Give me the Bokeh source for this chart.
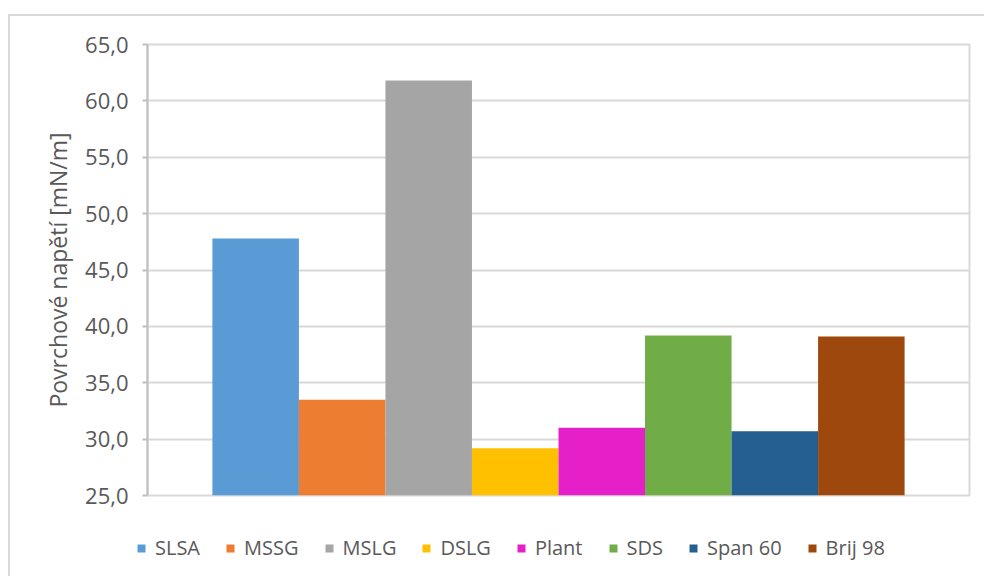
from bokeh.plotting import figure
from bokeh.models import (ColumnDataSource, FactorRange, Legend, LegendItem,
                          CustomJSTickFormatter, FixedTicker)
from bokeh.embed import file_html
from bokeh.resources import INLINE

# Surface tension of the tested surfactants
surfactants = ["SLSA", "MSSG", "MSLG", "DSLG", "Plant", "SDS", "Span 60", "Brij 98"]
tension = [47.8, 33.5, 61.8, 29.2, 31.0, 39.2, 30.7, 39.1]
colors = ["#5B9BD5", "#ED7D31", "#A5A5A5", "#FFC000", "#E620C8", "#70AD47", "#255E91", "#9E480E"]
y_ticks = [25, 30, 35, 40, 45, 50, 55, 60, 65]

FONT = "Open Sans"
TEXT = "#595959"
GRID = "#d9d9d9"
BORDER = "2px solid #d9d9d9"

src = ColumnDataSource(dict(name=surfactants, value=tension, color=colors))

# main bar chart
p = figure(width=976, height=500, output_backend="svg", toolbar_location=None,
           x_range=FactorRange(factors=surfactants, range_padding=0.75,
                               range_padding_units="absolute"),
           y_range=(25, 65),
           min_border_left=137, min_border_top=28, min_border_right=17,
           min_border_bottom=21)
p.styles = {"margin-left": "8px", "margin-top": "14px",
            "border-left": BORDER, "border-top": BORDER}

p.vbar(x="name", top="value", bottom=25, width=1.0, color="color",
       line_color=None, source=src)

p.xaxis.visible = False
p.xgrid.visible = False
p.ygrid.grid_line_color = GRID
p.ygrid.grid_line_width = 2
p.outline_line_color = GRID
p.outline_line_width = 2

ax = p.yaxis[0]
ax.ticker = FixedTicker(ticks=y_ticks)
ax.formatter = CustomJSTickFormatter(code="return tick.toFixed(1).replace('.', ',');")
ax.axis_line_color = "#bfbfbf"
ax.axis_line_width = 2
ax.major_tick_line_color = "#bfbfbf"
ax.major_tick_line_width = 2
ax.major_tick_out = 5
ax.major_tick_in = 0
ax.minor_tick_line_color = None
ax.major_label_standoff = 14
ax.major_label_text_font = FONT
ax.major_label_text_font_size = "22px"
ax.major_label_text_color = TEXT
ax.axis_label = "Povrchové napětí [mN/m]"
ax.axis_label_text_font = FONT
ax.axis_label_text_font_size = "23px"
ax.axis_label_text_font_style = "normal"
ax.axis_label_text_color = TEXT
ax.axis_label_standoff = 8

# legend strip below the chart; its bars sit outside the visible y range,
# they only provide the legend keys
lg = figure(width=976, height=62, output_backend="svg", toolbar_location=None,
            x_range=FactorRange(factors=surfactants), y_range=(100, 101),
            min_border_left=0, min_border_right=0, min_border_top=0,
            min_border_bottom=0)
lg.styles = {"margin-left": "8px", "border-left": BORDER}
lg.axis.visible = False
lg.grid.visible = False
lg.outline_line_color = None
key = lg.vbar(x="name", top="value", bottom=25, width=1.0, color="color",
              line_color=None, source=src)

items = [LegendItem(label=n, renderers=[key], index=i) for i, n in enumerate(surfactants)]
legend = Legend(items=items, orientation="horizontal", location=(126, 15),
                glyph_width=10, glyph_height=10, label_standoff=9, spacing=25,
                padding=0, margin=0, border_line_color=None,
                background_fill_alpha=0,
                label_text_font=FONT, label_text_font_size="20px",
                label_text_color=TEXT, label_height=20)
lg.add_layout(legend, "center")

open("out.html", "w").write(file_html([p, lg], INLINE))
